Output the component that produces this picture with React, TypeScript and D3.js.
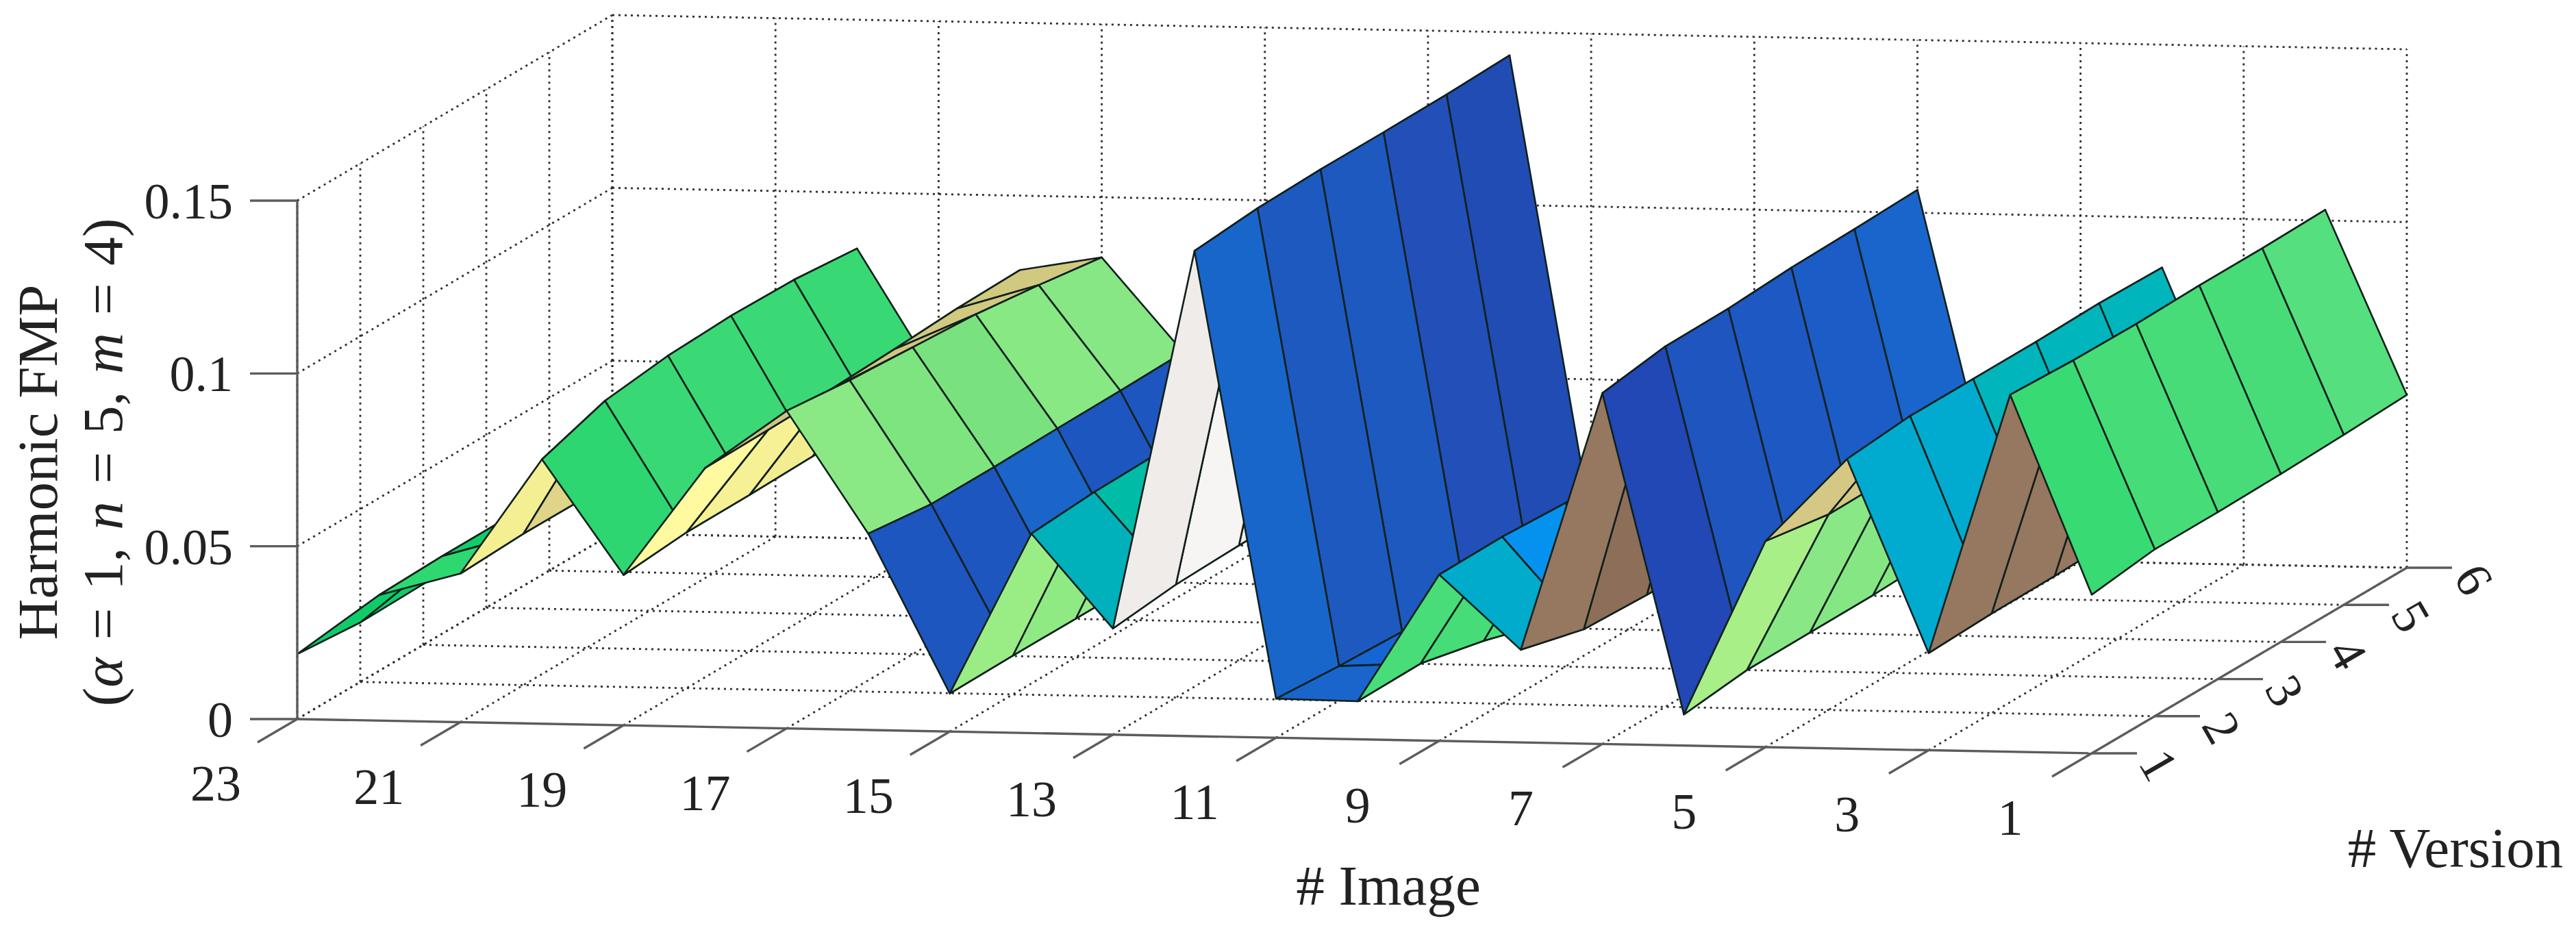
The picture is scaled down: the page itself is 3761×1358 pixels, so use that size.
import React, { useEffect, useRef } from 'react';
import * as d3 from 'd3';

const images = [23, 22, 21, 20, 19, 18, 17, 16, 15, 14, 13, 12, 11, 10, 9, 8, 7, 6, 5, 4, 3, 2, 1];
const versions = [1, 2, 3, 4, 5, 6];
const imageTicks = [23, 21, 19, 17, 15, 13, 11, 9, 7, 5, 3, 1];
const zTicks = [0, 0.05, 0.1, 0.15];
const zTickLabels = ['0', '0.05', '0.1', '0.15'];

// one row per image, values for version 1..6
const fmp = [
  [0.0188, 0.0172, 0.0176, 0.0178, 0.018, 0.018],
  [0.0363, 0.0368, 0.0368, 0.037, 0.037, 0.037],
  [0.043, 0.0438, 0.0437, 0.044, 0.044, 0.044],
  [0.0765, 0.0827, 0.085, 0.0858, 0.0855, 0.0838],
  [0.0435, 0.0451, 0.0452, 0.0456, 0.046, 0.046],
  [0.0749, 0.0752, 0.0762, 0.077, 0.0781, 0.0785],
  [0.0919, 0.09, 0.0888, 0.0876, 0.0853, 0.0826],
  [0.0568, 0.0546, 0.0546, 0.055, 0.0552, 0.0556],
  [0.011, 0.0112, 0.0112, 0.0113, 0.0114, 0.0114],
  [0.0577, 0.059, 0.0594, 0.0596, 0.0598, 0.06],
  [0.0307, 0.0327, 0.0333, 0.0335, 0.0336, 0.0336],
  [0.1404, 0.142, 0.1425, 0.1425, 0.1427, 0.1433],
  [0.0113, 0.01, 0.0092, 0.009, 0.009, 0.009],
  [0.011, 0.0112, 0.007, 0.0015, 0.003, 0.003],
  [0.0481, 0.0483, 0.0473, 0.047, 0.047, 0.047],
  [0.0268, 0.022, 0.0212, 0.021, 0.021, 0.021],
  [0.1015, 0.1043, 0.1045, 0.1056, 0.106, 0.1066],
  [0.009, 0.0111, 0.0112, 0.0113, 0.012, 0.012],
  [0.0596, 0.0566, 0.0568, 0.057, 0.058, 0.058],
  [0.0838, 0.0855, 0.0855, 0.0855, 0.0859, 0.0855],
  [0.0281, 0.0288, 0.0289, 0.0295, 0.0297, 0.03],
  [0.1033, 0.1025, 0.1023, 0.1027, 0.1027, 0.1031],
  [0.0459, 0.0483, 0.0483, 0.0486, 0.0492, 0.05],
];

// flat face colours, one row per pair of neighbouring images
const faceColors = [
  ['#0fcc6a', '#0fcc6a', '#0fcc6a', '#0fcc6a', '#0fcc6a'],
  ['#2ed870', '#12cc68', '#12cc68', '#12cc68', '#12cc68'],
  ['#f4ef92', '#dfd488', '#dfd488', '#dfd488', '#dfd488'],
  ['#2dd670', '#38d875', '#3ad976', '#3ad976', '#38d974'],
  ['#fff9a0', '#f7f195', '#f3ed92', '#f3ed92', '#f3ed92'],
  ['#d0c680', '#d0c680', '#d0c680', '#d2c980', '#d2c980'],
  ['#8ae985', '#7ee47f', '#79e27e', '#87e884', '#86e784'],
  ['#1e56bf', '#1e56bf', '#1a64ca', '#1e56bf', '#1e56bf'],
  ['#9aed85', '#8fea84', '#98ec85', '#98ec85', '#98ec85'],
  ['#00b0bb', '#00bba5', '#00bba5', '#00bba5', '#00bba5'],
  ['#efecea', '#f6f5f3', '#f0eeec', '#f0eeec', '#f0eeec'],
  ['#1966cb', '#1e59c0', '#1e59c0', '#2250b8', '#214cb4'],
  ['#1965cb', '#1565d4', '#1565d4', '#1565d4', '#1565d4'],
  ['#48dd78', '#46dc77', '#48dd78', '#48dd78', '#48dd78'],
  ['#00abcc', '#0592ef', '#0592ef', '#0592ef', '#0592ef'],
  ['#96775f', '#8d6e58', '#96775f', '#96775f', '#96775f'],
  ['#2148b4', '#1e55bf', '#1e58c2', '#1c5cc6', '#1965cb'],
  ['#a8ef88', '#89e885', '#85e784', '#85e784', '#85e784'],
  ['#d4c884', '#d4c884', '#d4c884', '#d4c884', '#d4c884'],
  ['#00abcf', '#00abcf', '#00b5bb', '#00b5bb', '#00b5bb'],
  ['#96775f', '#96775f', '#96775f', '#96775f', '#96775f'],
  ['#38da74', '#46dc77', '#47dc78', '#47dc78', '#55df7e'],
];

const serif = '"Liberation Serif", "Times New Roman", serif';

export default function App() {
  const svgRef = useRef<SVGSVGElement>(null);

  useEffect(() => {
    if (!svgRef.current) return;
    const svg = d3.select(svgRef.current);
    svg.selectAll('*').remove();

    // orthographic view: each axis has its own screen direction
    const imgX = d3.scaleLinear().domain([23, 1]).range([434, 3054]);
    const imgY = d3.scaleLinear().domain([23, 1]).range([1050, 1100]);
    const verX = d3.scaleLinear().domain([1, 6]).range([0, 460]);
    const verY = d3.scaleLinear().domain([1, 6]).range([0, -271]);
    const zY = d3.scaleLinear().domain([0, 0.15]).range([0, -757]);

    const project = (img: number, ver: number, z: number): [number, number] => [
      imgX(img) + verX(ver),
      imgY(img) + verY(ver) + zY(z),
    ];
    const line = d3.line<[number, number]>();

    // dotted grid on the floor and the two walls
    const grid = svg.append('g');
    const dotted = (a: [number, number], b: [number, number]) =>
      grid.append('path')
        .attr('d', line([a, b]))
        .attr('fill', 'none')
        .attr('stroke', '#2e2e2e')
        .attr('stroke-width', 2.8)
        .attr('stroke-dasharray', '3 6');

    const zMax = zTicks[zTicks.length - 1];
    imageTicks.forEach(img => {
      dotted(project(img, 1, 0), project(img, 6, 0));
      dotted(project(img, 6, 0), project(img, 6, zMax));
    });
    versions.forEach(ver => {
      if (ver > 1) dotted(project(23, ver, 0), project(1, ver, 0));
      dotted(project(23, ver, 0), project(23, ver, zMax));
    });
    zTicks.forEach(z => {
      dotted(project(23, 1, z), project(23, 6, z));
      dotted(project(23, 6, z), project(1, 6, z));
    });

    // surface, painted back to front
    const surface = svg.append('g');
    images.slice(0, -1).forEach((img, c) => {
      for (let r = versions.length - 2; r >= 0; r--) {
        const next = images[c + 1];
        const corners = [
          project(img, versions[r], fmp[c][r]),
          project(next, versions[r], fmp[c + 1][r]),
          project(next, versions[r + 1], fmp[c + 1][r + 1]),
          project(img, versions[r + 1], fmp[c][r + 1]),
        ];
        surface.append('path')
          .attr('d', line(corners) + 'Z')
          .attr('fill', faceColors[c][r])
          .attr('stroke', '#10201c')
          .attr('stroke-width', 2.6)
          .attr('stroke-linejoin', 'round');
      }
    });

    // axes
    const axes = svg.append('g')
      .attr('stroke', '#5c5c5c')
      .attr('stroke-width', 3.4)
      .attr('fill', 'none');
    const solid = (a: [number, number], b: [number, number]) =>
      axes.append('path').attr('d', line([a, b]));

    solid(project(23, 1, 0), project(23, 1, zMax));
    solid(project(23, 1, 0), project(1, 1, 0));
    solid(project(1, 1, 0), project(1, 6, 0));

    const labels = svg.append('g')
      .attr('font-family', serif)
      .attr('fill', '#222');

    zTicks.forEach((z, i) => {
      const [x, y] = project(23, 1, z);
      solid([x - 69, y], [x, y]);
      labels.append('text')
        .attr('x', x - 94)
        .attr('y', y + 26)
        .attr('text-anchor', 'end')
        .attr('font-size', 74)
        .text(zTickLabels[i]);
    });

    imageTicks.forEach(img => {
      const [x, y] = project(img, 1, 0);
      solid([x - 58, y + 34], [x, y]);
      labels.append('text')
        .attr('x', x - 119)
        .attr('y', y + 119)
        .attr('text-anchor', 'middle')
        .attr('font-size', 74)
        .text(img);
    });

    versions.forEach(ver => {
      const [x, y] = project(1, ver, 0);
      solid([x, y], [x + 66, y]);
      labels.append('text')
        .attr('transform', `translate(${x + 98},${y + 17}) rotate(60)`)
        .attr('text-anchor', 'middle')
        .attr('dominant-baseline', 'central')
        .attr('font-size', 74)
        .text(ver);
    });

    labels.append('text')
      .attr('x', 2027)
      .attr('y', 1321)
      .attr('text-anchor', 'middle')
      .attr('font-size', 83)
      .text('# Image');

    labels.append('text')
      .attr('x', 3585)
      .attr('y', 1266)
      .attr('text-anchor', 'middle')
      .attr('font-size', 83)
      .text('# Version');

    labels.append('text')
      .attr('transform', 'translate(83,675) rotate(-90)')
      .attr('text-anchor', 'middle')
      .attr('font-size', 83)
      .text('Harmonic FMP');

    const second = labels.append('text')
      .attr('transform', 'translate(178,675) rotate(-90)')
      .attr('text-anchor', 'middle')
      .attr('font-size', 83)
      .attr('word-spacing', 5);
    const parts: [string, boolean][] = [
      ['(', false], ['α', true], [' = 1, ', false], ['n', true],
      [' = 5, ', false], ['m', true], [' = 4)', false],
    ];
    parts.forEach(([t, italic]) => {
      second.append('tspan')
        .attr('font-style', italic ? 'italic' : 'normal')
        .text(t);
    });
  }, []);

  return (
    <svg
      ref={svgRef}
      width="3761"
      height="1358"
      style={{ position: 'absolute', left: 0, top: 0, background: '#fff' }}
    />
  );
}
